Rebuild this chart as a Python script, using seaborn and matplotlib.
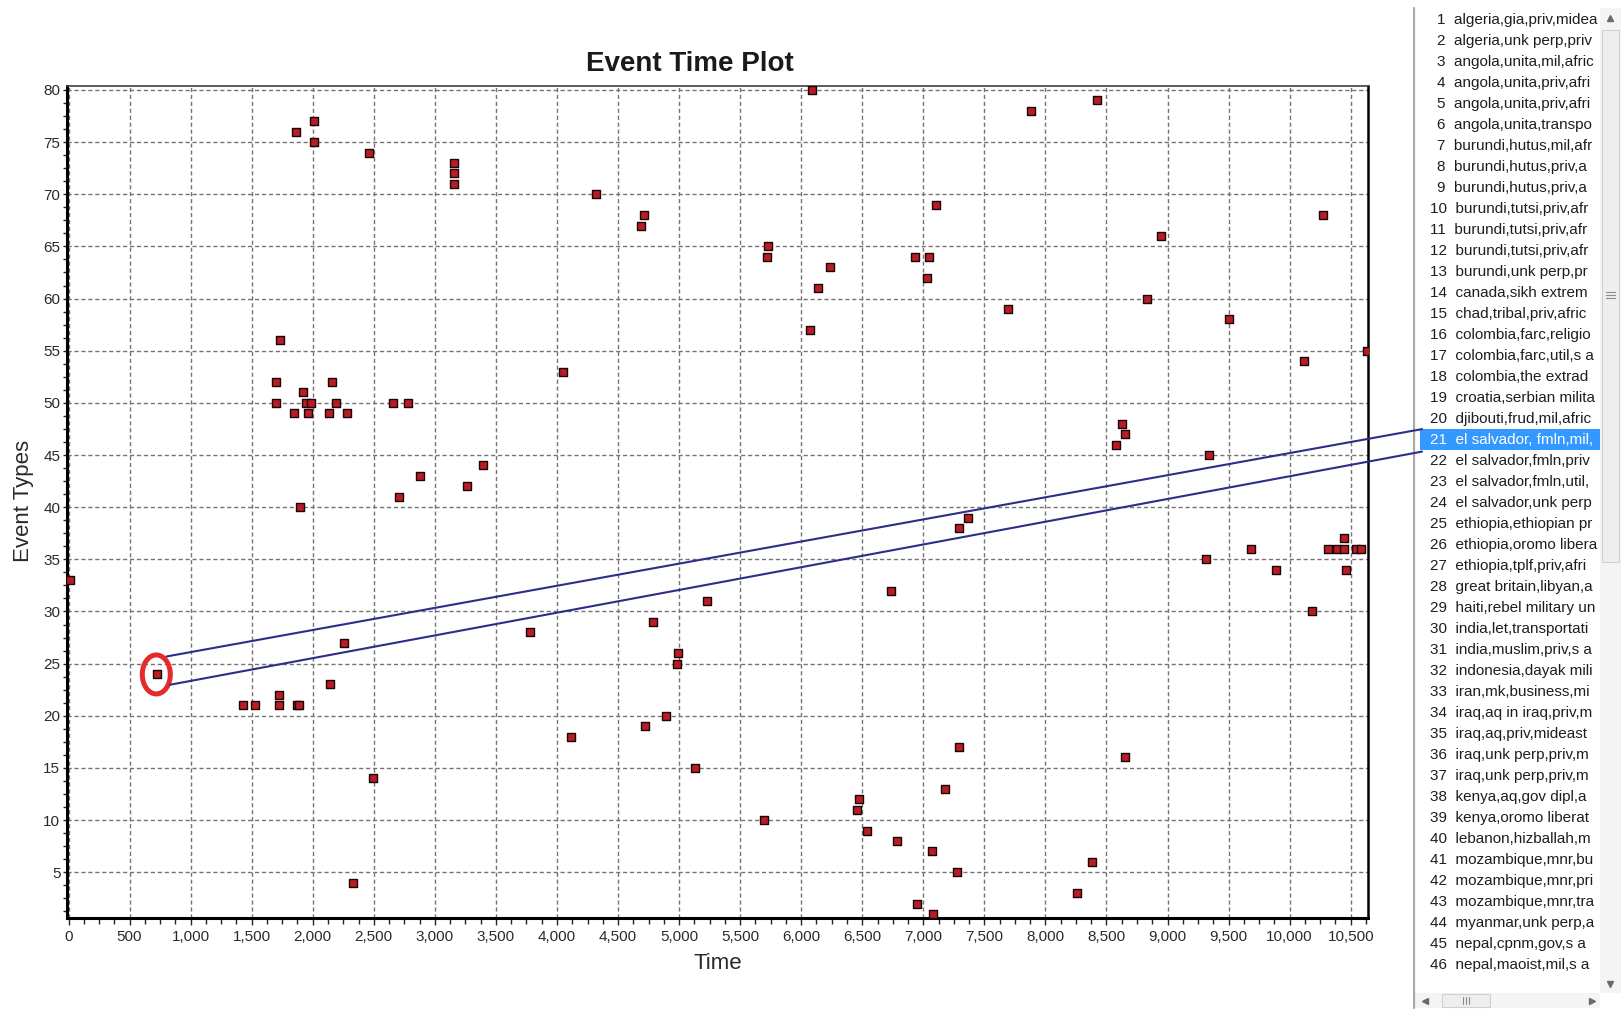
import numpy as np
import pandas as pd
import seaborn as sns
import matplotlib.pyplot as plt
from matplotlib.patches import Ellipse, Rectangle
from matplotlib.ticker import MultipleLocator, FuncFormatter

W, H = 1621, 1013

# event times and event type ids
times = [2008, 1860, 2008, 2461, 3159, 3159, 3159, 1735,
         6086, 4317, 4710, 4688, 5731, 5717, 6233, 6135, 6072, 4047, 7103, 6932, 7046, 7030,
         7879, 8420, 10275, 8946, 7696, 8829, 9500, 10117, 10630,
         1702, 2155, 1923, 1702, 1942, 1983, 2190, 2657, 2783, 1849, 1959, 2131, 2278,
         3397, 2878, 3261, 2706, 1896, 15, 2253, 727,
         6735, 5226, 4784, 3776, 4994, 4980,
         8629, 8654, 8580, 9342, 7366, 7290, 10447, 9686, 10311, 10385, 10447, 10540, 10584,
         9317, 9885, 10461, 10180,
         2141, 1426, 1530, 1724, 1724, 1869, 1890, 2496, 2327,
         4893, 4721, 4118, 5130, 7177, 6476, 6454, 5693, 6538, 6782, 7068, 6945, 7079,
         7292, 8654, 7278, 8383, 8261]
event_types = [77, 76, 75, 74, 73, 72, 71, 56,
               80, 70, 68, 67, 65, 64, 63, 61, 57, 53, 69, 64, 64, 62,
               78, 79, 68, 66, 59, 60, 58, 54, 55,
               52, 52, 51, 50, 50, 50, 50, 50, 50, 49, 49, 49, 49,
               44, 43, 42, 41, 40, 33, 27, 24,
               32, 31, 29, 28, 26, 25,
               48, 47, 46, 45, 39, 38, 37, 36, 36, 36, 36, 36, 36,
               35, 34, 34, 30,
               23, 21, 21, 22, 21, 21, 21, 14, 4,
               20, 19, 18, 15, 13, 12, 11, 10, 9, 8, 7, 2, 1,
               17, 16, 5, 6, 3]

selected_time, selected_type = 727, 24
selected_item = 21

# list entries as far as they are visible in the list box
event_names = [
    "algeria,gia,priv,midea", "algeria,unk perp,priv", "angola,unita,mil,afric",
    "angola,unita,priv,afri", "angola,unita,priv,afri", "angola,unita,transpo",
    "burundi,hutus,mil,afr", "burundi,hutus,priv,a", "burundi,hutus,priv,a",
    "burundi,tutsi,priv,afr", "burundi,tutsi,priv,afr", "burundi,tutsi,priv,afr",
    "burundi,unk perp,pr", "canada,sikh extrem", "chad,tribal,priv,afric",
    "colombia,farc,religio", "colombia,farc,util,s a", "colombia,the extrad",
    "croatia,serbian milita", "djibouti,frud,mil,afric", "el salvador, fmln,mil,",
    "el salvador,fmln,priv", "el salvador,fmln,util,", "el salvador,unk perp",
    "ethiopia,ethiopian pr", "ethiopia,oromo libera", "ethiopia,tplf,priv,afri",
    "great britain,libyan,a", "haiti,rebel military un", "india,let,transportati",
    "india,muslim,priv,s a", "indonesia,dayak mili", "iran,mk,business,mi",
    "iraq,aq in iraq,priv,m", "iraq,aq,priv,mideast", "iraq,unk perp,priv,m",
    "iraq,unk perp,priv,m", "kenya,aq,gov dipl,a", "kenya,oromo liberat",
    "lebanon,hizballah,m", "mozambique,mnr,bu", "mozambique,mnr,pri",
    "mozambique,mnr,tra", "myanmar,unk perp,a", "nepal,cpnm,gov,s a",
    "nepal,maoist,mil,s a"]

sns.set_style("white")
plt.rcParams['font.family'] = ['Liberation Sans', 'DejaVu Sans']

fig = plt.figure(figsize=(W / 100, H / 100), dpi=100)
ax = fig.add_axes([67.3 / W, 1 - 917.7 / H, 1300.4 / W, 831.7 / H], zorder=1)

df = pd.DataFrame({"Time": times, "Event Types": event_types})
sns.scatterplot(data=df, x="Time", y="Event Types", marker="s", s=30, color="#B81C24",
                edgecolor="#1A0505", linewidth=1, ax=ax, zorder=3)

ax.set_xlim(-10, 10639)
ax.set_ylim(0.64, 80.38)
ax.xaxis.set_major_locator(MultipleLocator(500))
ax.xaxis.set_minor_locator(MultipleLocator(125))
ax.yaxis.set_major_locator(MultipleLocator(5))
ax.yaxis.set_minor_locator(MultipleLocator(1.25))
ax.xaxis.set_major_formatter(FuncFormatter(lambda v, p: f"{int(round(v)):,}"))
ax.yaxis.set_major_formatter(FuncFormatter(lambda v, p: f"{int(round(v))}"))
ax.set_yticks([t for t in range(5, 81, 5)])
ax.grid(True, which="major", color="#747474", linestyle=(0, (3, 2)), linewidth=1)
ax.set_axisbelow(True)
ax.tick_params(axis="x", which="major", direction="out", length=5, width=1, pad=4,
               labelsize=11, labelcolor="#2a2a2a", bottom=True)
ax.tick_params(axis="x", which="minor", direction="out", length=4, width=1, bottom=True)
ax.tick_params(axis="y", which="major", direction="out", length=3, width=1, pad=2,
               labelsize=11, labelcolor="#2a2a2a", left=True)
ax.tick_params(axis="y", which="minor", direction="out", length=3, width=1, left=True)
ax.set_xlabel("")
ax.set_ylabel("")
for side, lw, col in [("left", 2.2, "black"), ("bottom", 2.2, "black"),
                      ("right", 1.8, "black"), ("top", 1.2, "#404040")]:
    ax.spines[side].set_linewidth(lw)
    ax.spines[side].set_color(col)

fig.text(690 / W, 1 - 64 / H, "Event Time Plot", ha="center", va="center",
         fontsize=20, fontweight="bold", color="#1a1a1a")
fig.text(717.5 / W, 1 - 963 / H, "Time", ha="center", va="center", fontsize=16, color="#2a2a2a")
fig.text(23 / W, 1 - 501 / H, "Event Types", ha="center", va="center", rotation=90,
         fontsize=16, color="#2a2a2a")

# list panel on the right
panel = fig.add_axes([1413 / W, 0, (W - 1413) / W, 1], zorder=2)
panel.set_xlim(1413, W)
panel.set_ylim(H, 0)
panel.axis("off")

row_h = 21.0
row0 = 19.6
row_top = row0 + (selected_item - 1) * row_h - row_h / 2
panel.add_patch(Rectangle((1420, row_top), 180, row_h, facecolor="#3399FF",
                          edgecolor="none", zorder=2))
for i, name in enumerate(event_names, start=1):
    yc = row0 + (i - 1) * row_h
    x0 = 1437 if i < 10 else 1430
    col = "white" if i == selected_item else "#1e1e1e"
    panel.text(x0, yc, f"{i}  {name}", ha="left", va="center", fontsize=11,
               color=col, zorder=3)

# scrollbars
panel.add_patch(Rectangle((1600, 8), 21, 985, facecolor="#F4F4F4", edgecolor="none", zorder=5))
panel.add_patch(Rectangle((1602, 30), 17, 532, facecolor="#EEEEEE", edgecolor="#D0D0D0",
                          lw=0.8, zorder=6))
for dy in (-3, 0, 3):
    panel.plot([1606, 1615], [295 + dy, 295 + dy], color="#8a8a8a", lw=0.8, zorder=7)
panel.plot([1610], [18], marker="^", ms=4, color="#6a6a6a", zorder=7)
panel.plot([1610], [984], marker="v", ms=4, color="#6a6a6a", zorder=7)
panel.add_patch(Rectangle((1413, 993), 187, 15, facecolor="#F4F4F4", edgecolor="none", zorder=5))
panel.add_patch(Rectangle((1442, 994), 48, 13, facecolor="#EEEEEE", edgecolor="#D0D0D0",
                          lw=0.8, zorder=6))
for dx in (-3, 0, 3):
    panel.plot([1466 + dx, 1466 + dx], [997, 1004], color="#8a8a8a", lw=0.8, zorder=7)
panel.plot([1425], [1000.5], marker="<", ms=4, color="#6a6a6a", zorder=7)
panel.plot([1592], [1000.5], marker=">", ms=4, color="#6a6a6a", zorder=7)
panel.plot([1414, 1414], [8, 1008], color="#A8A8A8", lw=1.6, zorder=8)

# overlay with the highlight ellipse and connector lines
ov = fig.add_axes([0, 0, 1, 1], zorder=3)
ov.set_xlim(0, W)
ov.set_ylim(H, 0)
ov.axis("off")
ov.patch.set_alpha(0)

px, py = ax.transData.transform((selected_time, selected_type))
py = H - py
ov.add_patch(Ellipse((px - 1, py + 0.4), 28, 39, fill=False, edgecolor="#E32B2B", lw=3.6))
line_col = "#2E2E8A"
ov.plot([px + 9.4, 1422], [py - 17.6, row_top], color=line_col, lw=1.5)
ov.plot([px + 12.7, 1422], [py + 10.7, row_top + row_h + 1.5], color=line_col, lw=1.5)

fig.savefig("out.png", dpi=100)
